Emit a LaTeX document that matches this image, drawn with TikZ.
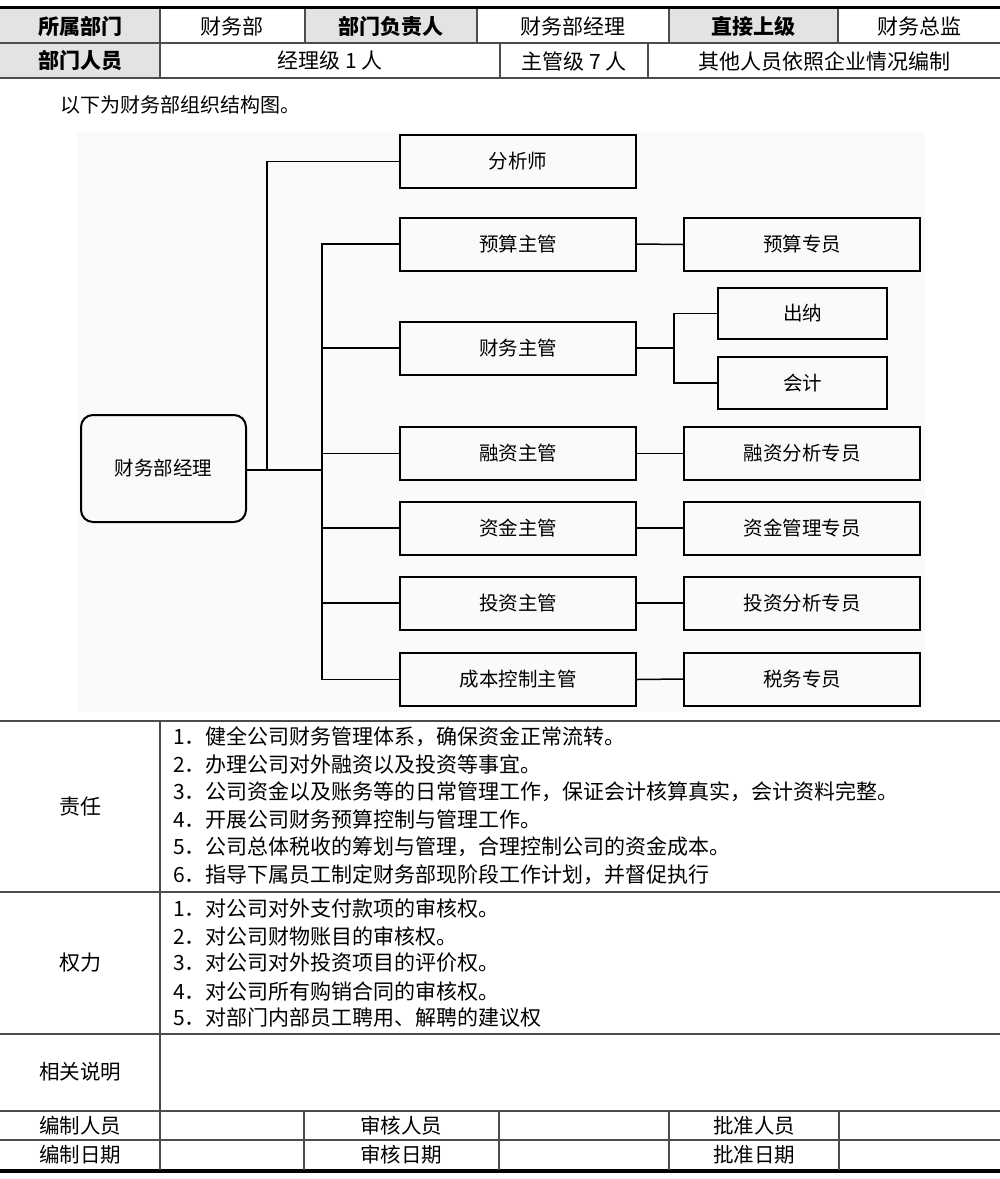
\documentclass[tikz,border=0pt]{standalone}
\usepackage{fontspec}
\setmainfont{Noto Sans CJK SC}
\newcommand\setfs[1]{\fontsize{#1}{#1}\selectfont}
\begin{document}
\begin{tikzpicture}[x=1pt,y=-1pt,
  orgbox/.style={draw=black, line width=2pt, minimum width=236pt, minimum height=53pt, inner sep=0pt, font=\setfs{19.5}},
  conn/.style={draw=black, line width=1.5pt},
  tline/.style={draw=black!70, line width=1.6pt},
  hdr/.style={fill=black!11},
  htext/.style={font=\setfs{21}\bfseries, inner sep=0pt},
  ctext/.style={font=\setfs{21}, inner sep=0pt},
  ltext/.style={font=\setfs{21}, inner sep=0pt, anchor=west},
  btext/.style={font=\setfs{20.5}, inner sep=0pt}
]
\useasboundingbox (0,0) rectangle (1000,1179);
\fill[white] (0,0) rectangle (1000,1179);

% ---------- header table ----------
\fill[hdr] (0,9) rectangle (160,43);
\fill[hdr] (305,9) rectangle (477,43);
\fill[hdr] (669,9) rectangle (838,43);
\fill[hdr] (0,43) rectangle (160,78);
\draw[black, line width=3pt] (0,7) -- (1000,7);
\draw[tline] (0,43) -- (1000,43);
\draw[tline] (0,78) -- (1000,78);
\foreach \xx in {160,305,477,669,838} \draw[tline] (\xx,8.5) -- (\xx,43);
\foreach \xx in {160,500,648} \draw[tline] (\xx,43) -- (\xx,78);

\node[htext] (h1) at (80,26) {所属部门};
\node[ctext] (h2) at (232,26) {财务部};
\node[htext] (h3) at (391,26) {部门负责人};
\node[ctext] (h4) at (573,26) {财务部经理};
\node[htext] (h5) at (753,26) {直接上级};
\node[ctext] (h6) at (919,26) {财务总监};
\node[htext] (h7) at (80,61) {部门人员};
\node[ctext] (h8) at (330,61) {经理级 1 人};
\node[ctext] (h9) at (574,61) {主管级 7 人};
\node[ctext] (h10) at (824,61) {其他人员依照企业情况编制};

\node[font=\setfs{20}, inner sep=0pt, anchor=west] (intro) at (60,105) {以下为财务部组织结构图。};

% ---------- org chart ----------
\fill[black!2] (77,132) rectangle (925,712);

\node[draw=black, line width=2pt, rounded corners=12pt, minimum width=165pt, minimum height=107pt, inner sep=0pt, font=\setfs{19.5}] (mgr) at (163.5,468.5) {财务部经理};

\node[orgbox] (ana) at (518,161.5) {分析师};
\node[orgbox] (bud) at (518,244) {预算主管};
\node[orgbox] (fin) at (518,348) {财务主管};
\node[orgbox] (fz)  at (518,453.5) {融资主管};
\node[orgbox] (zj)  at (518,528) {资金主管};
\node[orgbox] (tz)  at (518,603) {投资主管};
\node[orgbox] (cb)  at (518,679.5) {成本控制主管};

\node[orgbox] (bud2) at (802,244.5) {预算专员};
\node[orgbox, minimum width=169pt, minimum height=51pt] (cn) at (802.5,313.5) {出纳};
\node[orgbox, minimum width=169pt, minimum height=52pt] (kj) at (802.5,383) {会计};
\node[orgbox] (fz2) at (802,453.5) {融资分析专员};
\node[orgbox] (zj2) at (802,528) {资金管理专员};
\node[orgbox] (tz2) at (802,603) {投资分析专员};
\node[orgbox] (sw)  at (802,679) {税务专员};

\coordinate (j1) at (267,470);
\coordinate (j2) at (322,470);
\coordinate (j3) at (674,348);

\draw[conn] (mgr.east |- j2) -- (j2);
\draw[conn] (j1) |- (ana.west);
\draw[conn] (bud.west) -| (j2);
\draw[conn] (cb.west) -| (j2);
\foreach \n in {fin,fz,zj,tz} \draw[conn] (\n.west) -- (\n.west -| j2);

\draw[conn] (bud.east) -- (bud2.west);
\draw[conn] (fin.east) -- (j3);
\draw[conn] (cn.west) -| (j3);
\draw[conn] (kj.west) -| (j3);
\draw[conn] (fz.east) -- (fz2.west);
\draw[conn] (zj.east) -- (zj2.west);
\draw[conn] (tz.east) -- (tz2.west);
\draw[conn] (cb.east) -- (sw.west);

% ---------- main table ----------
\draw[tline] (0,721) -- (1000,721);
\draw[tline] (0,892) -- (1000,892);
\draw[tline] (0,1034) -- (1000,1034);
\draw[tline] (0,1111) -- (1000,1111);
\draw[tline] (0,1140) -- (1000,1140);
\draw[black, line width=3.5pt] (0,1171) -- (1000,1171);
\draw[tline] (160,721) -- (160,1170);
\foreach \xx in {304,499,669,839} \draw[tline] (\xx,1111) -- (\xx,1170);

\node[ctext] (lz) at (80,807) {责任};
\node[ltext] (r1) at (173,737) {1．健全公司财务管理体系，确保资金正常流转。};
\node[ltext] (r2) at (173,764.5) {2．办理公司对外融资以及投资等事宜。};
\node[ltext] (r3) at (173,792) {3．公司资金以及账务等的日常管理工作，保证会计核算真实，会计资料完整。};
\node[ltext] (r4) at (173,819.5) {4．开展公司财务预算控制与管理工作。};
\node[ltext] (r5) at (173,847) {5．公司总体税收的筹划与管理，合理控制公司的资金成本。};
\node[ltext] (r6) at (173,875) {6．指导下属员工制定财务部现阶段工作计划，并督促执行};

\node[ctext] (lq) at (80,963) {权力};
\node[ltext] (p1) at (173,908) {1．对公司对外支付款项的审核权。};
\node[ltext] (p2) at (173,936) {2．对公司财物账目的审核权。};
\node[ltext] (p3) at (173,963) {3．对公司对外投资项目的评价权。};
\node[ltext] (p4) at (173,991) {4．对公司所有购销合同的审核权。};
\node[ltext] (p5) at (173,1018) {5．对部门内部员工聘用、解聘的建议权};

\node[btext] (ls) at (80,1072) {相关说明};
\node[btext] (b1) at (80,1126) {编制人员};
\node[btext] (b2) at (401,1126) {审核人员};
\node[btext] (b3) at (754,1126) {批准人员};
\node[btext] (b4) at (80,1155) {编制日期};
\node[btext] (b5) at (401,1155) {审核日期};
\node[btext] (b6) at (754,1155) {批准日期};
\end{tikzpicture}
\end{document}
